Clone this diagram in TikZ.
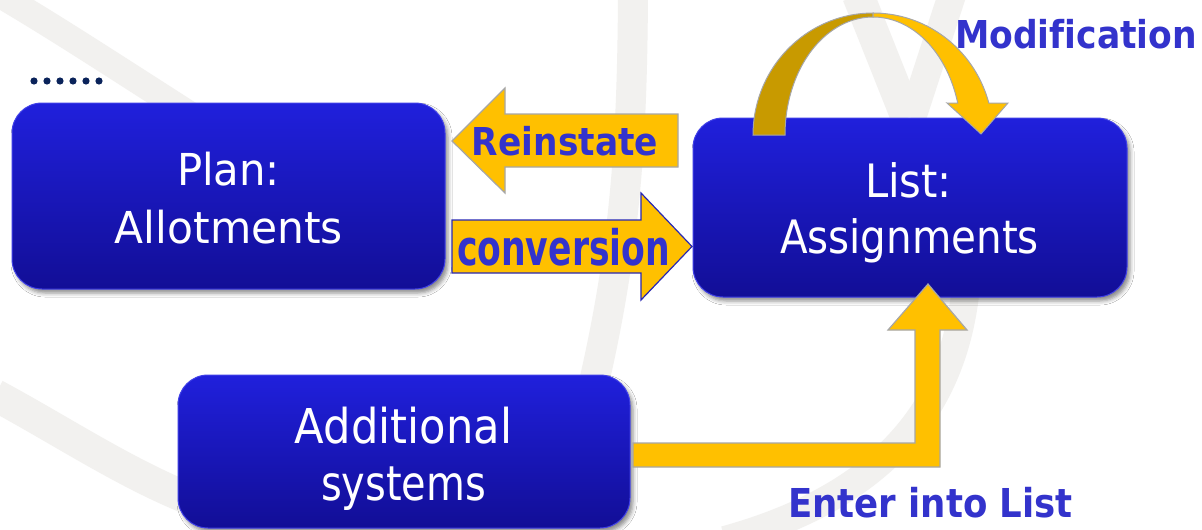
\documentclass[tikz,border=0pt]{standalone}
\usepackage{fontspec}
\setmainfont{DejaVu Sans}[Ligatures=NoCommon]
\usetikzlibrary{shadows.blur}
\newcommand\fitw[2]{\resizebox{#1}{\height}{#2}}
\definecolor{boxtop}{RGB}{32,32,220}
\definecolor{boxbot}{RGB}{18,14,150}
\definecolor{boxedge}{RGB}{64,64,232}
\definecolor{arrowfill}{RGB}{255,192,0}
\definecolor{arrowdark}{RGB}{200,154,0}
\definecolor{arrowedge}{RGB}{166,166,166}
\definecolor{convedge}{RGB}{40,40,180}
\definecolor{lblue}{RGB}{51,51,204}
\definecolor{wmgray}{RGB}{242,241,239}
\definecolor{dotblue}{RGB}{10,35,90}
\begin{document}
\begin{tikzpicture}[x=1pt,y=-1pt,
  box/.style={rounded corners=30pt, top color=boxtop, bottom color=boxbot,
    draw=boxedge, line width=1pt, inner sep=0pt,
    blur shadow={shadow xshift=3pt, shadow yshift=-4pt, shadow blur radius=4pt, shadow opacity=45}},
  boxtext/.style={text=white, inner sep=0pt, anchor=base},
  blockarrow/.style={fill=arrowfill, draw=arrowedge, line width=1.2pt, line join=miter},
  lbl/.style={text=lblue, inner sep=0pt, anchor=base},
  wm/.style={draw=wmgray, line width=30pt}]
\useasboundingbox (0,0) rectangle (1202,530);
\fill[white] (0,0) rectangle (1202,530);
% watermark bands
\draw[wm, line width=26pt] (-5,-8) .. controls (60,30) and (120,70) .. (230,140);
\draw[wm] (633,-5) .. controls (632,150) and (625,260) .. (585,420);
\draw[wm, line width=32pt] (858,-5) -- (907,118);
\draw[wm, line width=28pt] (952,-5) -- (912,118);
\draw[wm, line width=28pt] (965,295) .. controls (950,420) and (870,500) .. (725,540);
\draw[wm, line width=32pt] (-5,395) .. controls (60,430) and (120,470) .. (185,497);
% dots
\foreach \i in {0,...,5} \fill[dotblue] (34+13*\i,81) circle (3.6pt);
% boxes
\node[box, minimum width=433pt, minimum height=186pt] (plan) at (228.5,196) {};
\node[box, minimum width=434pt, minimum height=179pt] (list) at (910,207.5) {};
\node[box, minimum width=452pt, minimum height=153pt] (addsys) at (404,451.5) {};
% box texts
\node[boxtext, font=\fontsize{44}{58}\selectfont] (plan1) at (228.5,185) {\fitw{103pt}{Plan:}};
\node[boxtext, font=\fontsize{44}{58}\selectfont] (plan2) at (229,243) {\fitw{228pt}{Allotments}};
\node[boxtext, font=\fontsize{46}{56}\selectfont] (list1) at (908.5,197) {\fitw{87pt}{List:}};
\node[boxtext, font=\fontsize{46}{56}\selectfont] (list2) at (909.5,253) {\fitw{259pt}{Assignments}};
\node[boxtext, font=\fontsize{48}{57}\selectfont] (add1) at (403.5,443) {\fitw{217pt}{Additional}};
\node[boxtext, font=\fontsize{48}{57}\selectfont] (add2) at (403.5,500) {\fitw{165pt}{systems}};
% block arrows
\draw[blockarrow] (452,141) -- (505,88) -- (505,114) -- (678,114) -- (678,167) -- (505,167) -- (505,193) -- cycle;
\draw[blockarrow, draw=convedge] (452,220) -- (641,220) -- (641,193) -- (692,246.5) -- (641,300) -- (641,273) -- (452,273) -- cycle;
\draw[blockarrow] (633,443) -- (915,443) -- (915,330) -- (888,330) -- (928,284) -- (967,330) -- (940,330) -- (940,467) -- (633,467) -- cycle;
% modification curved arrow
\draw[fill=arrowdark, draw=arrowedge, line width=1pt]
  plot[domain=180:270, samples=40] ({873+120*cos(\x)},{135+122*sin(\x)})
  -- plot[domain=270:180, samples=40] ({873+88*cos(\x)},{135+118*sin(\x)}) -- cycle;
\draw[fill=arrowfill, draw=arrowedge, line width=1pt, line join=miter]
  plot[domain=270:344.8, samples=40] ({873+120*cos(\x)},{135+122*sin(\x)})
  -- (1008,103) -- (981,134) -- (947,103)
  -- plot[domain=344.3:270, samples=40] ({873+88*cos(\x)},{135+118*sin(\x)}) -- cycle;
% labels
\node[lbl, font=\bfseries\fontsize{38.4}{40}\selectfont] (reinstate) at (565,155) {\fitw{186pt}{Reinstate}};
\node[lbl, font=\bfseries\fontsize{49}{50}\selectfont] (conversion) at (563.5,265) {\fitw{213pt}{conversion}};
\node[lbl, font=\bfseries\fontsize{38.4}{40}\selectfont] (modification) at (1076,48) {\fitw{242pt}{Modification}};
\node[lbl, font=\bfseries\fontsize{39.8}{41}\selectfont] (enter) at (930.5,517) {\fitw{285pt}{Enter into List}};
\end{tikzpicture}
\end{document}
